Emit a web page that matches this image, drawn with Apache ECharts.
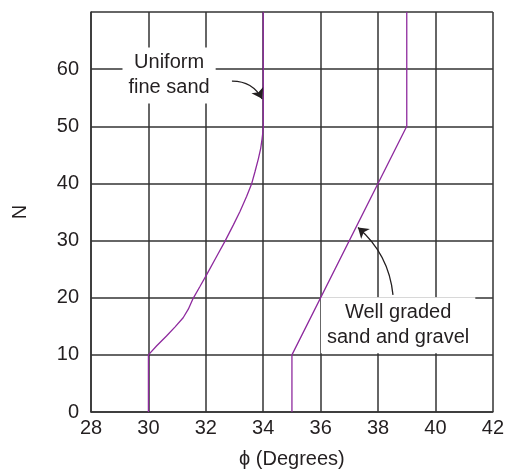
<!DOCTYPE html>
<html>
<head>
<meta charset="utf-8">
<script src="https://cdn.jsdelivr.net/npm/echarts@6/dist/echarts.min.js"></script>
<style>
  html, body { margin: 0; padding: 0; background: #fff; }
  #main { width: 507px; height: 474px; }
</style>
</head>
<body>
<div id="main"></div>
<script>
// phi (degrees) vs N
var fineSand = [
  [30, 0], [30, 10], [30.29, 11.6], [30.63, 13.3], [30.93, 14.9], [31.21, 16.5],
  [31.39, 18], [31.54, 19.7], [31.8, 22], [32.03, 24.05], [32.38, 27.25],
  [32.67, 29.9], [32.96, 32.75], [33.19, 35.1], [33.42, 37.7], [33.6, 40],
  [33.71, 42], [33.83, 44.3], [33.91, 46.1], [33.96, 47.8], [34, 49.5], [34, 70]
];
var wellGraded = [[35, 0], [35, 10], [39, 50], [39, 70]];

// annotation text anchors and arrows (data coords)
var labels = [
  { value: [30.72, 58.9], text: "Uniform\nfine sand" },
  { value: [38.7, 15.2], text: "Well graded\nsand and gravel" }
];
var arrows = [
  { coords: [[32.91, 57.9], [33.96, 54.8]], curve: 0.3 },
  { coords: [[38.52, 20.5], [37.3, 32.3]], curve: -0.2 }
];

var font = "'Liberation Sans', Arial, sans-serif";
var ink = "#231f20";
var purple = "#8e2a9e";

var myChart = echarts.init(document.getElementById("main"));
myChart.setOption({
  animation: false,
  grid: { left: 91, right: 14, top: 12, bottom: 59 },
  xAxis: {
    type: "value",
    min: 28,
    max: 42,
    interval: 2,
    name: "\u03d5 (Degrees)",
    nameLocation: "middle",
    nameGap: 37,
    nameTextStyle: { fontFamily: font, fontSize: 20, color: ink },
    axisLine: { show: true, lineStyle: { color: "#333", width: 1.5 } },
    axisTick: { show: false },
    axisLabel: { fontFamily: font, fontSize: 20, color: ink, margin: 6 },
    splitLine: { show: true, lineStyle: { color: "#333", width: 1.5 } }
  },
  yAxis: {
    type: "value",
    min: 0,
    max: 70,
    interval: 10,
    name: "N",
    nameLocation: "middle",
    nameGap: 61,
    nameTextStyle: { fontFamily: font, fontSize: 20, color: ink },
    axisLine: { show: true, lineStyle: { color: "#333", width: 1.5 } },
    axisTick: { show: false },
    axisLabel: { fontFamily: font, fontSize: 20, color: ink, margin: 12, showMaxLabel: false },
    splitLine: { show: true, lineStyle: { color: "#333", width: 1.5 } }
  },
  series: [
    {
      name: "Uniform fine sand",
      type: "line",
      data: fineSand,
      symbol: "none",
      lineStyle: { color: purple, width: 1.3 },
      z: 4
    },
    {
      name: "Well graded sand and gravel",
      type: "line",
      data: wellGraded,
      symbol: "none",
      lineStyle: { color: purple, width: 1.3 },
      z: 4
    },
    {
      type: "scatter",
      symbolSize: 0,
      z: 3,
      itemStyle: { opacity: 1 },
      emphasis: { disabled: true },
      data: labels.map(function (d) {
        return { value: d.value, label: { formatter: d.text } };
      }),
      label: {
        show: true,
        position: "inside",
        align: "center",
        verticalAlign: "middle",
        fontFamily: font,
        fontSize: 20,
        lineHeight: 25,
        color: ink,
        opacity: 1,
        backgroundColor: "#fff",
        padding: [3, 6, 3, 6]
      }
    }
  ].concat(arrows.map(function (a) {
    return {
      type: "lines",
      coordinateSystem: "cartesian2d",
      symbol: ["none", "arrow"],
      symbolSize: 10,
      z: 5,
      lineStyle: { color: ink, width: 1.3, curveness: a.curve, opacity: 1 },
      data: [{ coords: a.coords }]
    };
  }))
});
</script>
</body>
</html>
